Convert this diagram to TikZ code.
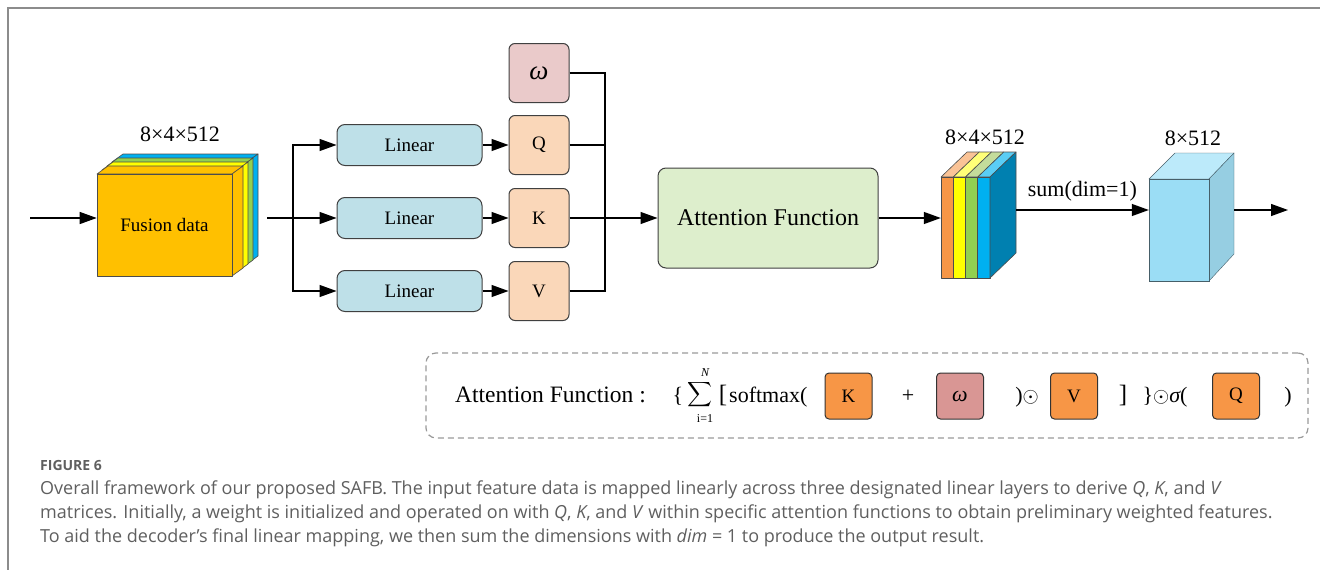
\documentclass[tikz,border=0pt]{standalone}
\usepackage{exscale}
\usepackage{fontspec}
\setmainfont{Liberation Serif}
\newfontfamily\capfont{Open Sans}
\usetikzlibrary{arrows.meta,positioning}

\definecolor{linblue}{RGB}{190,224,232}
\definecolor{matpeach}{RGB}{250,215,185}
\definecolor{wpink}{RGB}{234,202,202}
\definecolor{wdpink}{RGB}{217,150,148}
\definecolor{attgreen}{RGB}{221,238,204}
\definecolor{fusegold}{RGB}{255,192,0}
\definecolor{layorange}{RGB}{247,150,70}
\definecolor{layyellow}{RGB}{255,255,0}
\definecolor{laygreen}{RGB}{146,208,80}
\definecolor{layblue}{RGB}{0,176,240}
\definecolor{toporange}{RGB}{250,195,150}
\definecolor{topyellow}{RGB}{255,255,120}
\definecolor{topgreen}{RGB}{196,220,155}
\definecolor{topblue}{RGB}{90,205,245}
\definecolor{sideblue}{RGB}{0,128,176}
\definecolor{cubefront}{RGB}{155,221,245}
\definecolor{cubetop}{RGB}{188,234,250}
\definecolor{cubeside}{RGB}{150,206,226}
\definecolor{cubeedge}{RGB}{70,95,105}
\definecolor{capgray}{RGB}{95,95,95}

\begin{document}
\begin{tikzpicture}[x=1pt, y=-1pt,
txt/.style={font=\fontsize{19}{20}\selectfont},
lin/.style={draw=black!75, line width=1pt, rounded corners=8pt, fill=linblue, minimum width=145pt, minimum height=41pt, txt},
mat/.style={draw=black!75, line width=1pt, rounded corners=6pt, fill=matpeach, minimum width=60pt, minimum height=59pt, txt},
fbox/.style={draw=black!80, line width=1pt, rounded corners=4pt, minimum width=47pt, minimum height=46pt, fill=layorange, txt},
ftxt/.style={anchor=base, font=\fontsize{22}{24}\selectfont},
dimlab/.style={font=\fontsize{22}{24}\selectfont},
captxt/.style={anchor=base west, inner sep=0, text=capgray, font=\capfont\fontsize{18}{20}\selectfont},
arr/.style={-{Triangle[length=17pt,width=12pt]}, line width=1.3pt},
ln/.style={line width=1.3pt},
face/.style={draw=black!70, line width=0.6pt, line join=round}
]
\useasboundingbox (0,0) rectangle (1320,570);
\draw[line width=2pt, black!45] (1320,8) -- (8,8) -- (8,570);

% input data cube
\foreach \k/\c in {3/layblue, 2/laygreen, 1/layyellow} {
  \begin{scope}[shift={(5*\k,-4*\k)}]
    \filldraw[face, fill=\c] (97,174) -- (108,166) -- (243,166) -- (232,174) -- cycle;
    \filldraw[face, fill=\c] (232,174) -- (243,166) -- (243,268) -- (232,276) -- cycle;
  \end{scope}
}
\filldraw[face, fill=fusegold] (97,174) -- (108,166) -- (243,166) -- (232,174) -- cycle;
\filldraw[face, fill=fusegold] (232,174) -- (243,166) -- (243,268) -- (232,276) -- cycle;
\node[face, fill=fusegold, minimum width=135pt, minimum height=102pt, inner sep=0, txt] (fusion) at (164.5,225) {Fusion data};
\node[dimlab] (fdim) at (180,134) {8×4×512};

\coordinate (in) at (30,218);
\coordinate (fout) at (267,218);
\coordinate (split) at (293,218);
\draw[arr] (in) -- (in -| fusion.west);
\draw[ln] (fout) -- (split);

% linear layers
\node[lin] (lin1) at (409.5,145) {Linear};
\node[lin] (lin2) at (409.5,218) {Linear};
\node[lin] (lin3) at (409.5,291) {Linear};
\node[mat, fill=wpink, font=\fontsize{27}{28}\selectfont\itshape] (om) at (539,73) {ω};
\node[mat] (q) at (539,145) {Q};
\node[mat] (k) at (539,218) {K};
\node[mat] (v) at (539,291) {V};
\draw[arr] (split) |- (lin1);
\draw[arr] (split) -- (lin2);
\draw[arr] (split) |- (lin3);
\draw[arr] (lin1) -- (q);
\draw[arr] (lin2) -- (k);
\draw[arr] (lin3) -- (v);

\coordinate (merge) at (605,218);
\draw[ln] (om) -| (merge);
\draw[ln] (q) -| (merge);
\draw[ln] (v) -| (merge);
\draw[ln] (k) -- (merge);

% attention
\node[draw=black!75, line width=1pt, rounded corners=8pt, fill=attgreen, minimum width=220pt, minimum height=100pt, font=\fontsize{24}{26}\selectfont] (attn) at (768,218) {Attention Function};
\draw[arr] (merge) -- (attn);

% weighted features
\foreach \c/\t [count=\i from 0] in {layorange/toporange, layyellow/topyellow, laygreen/topgreen, layblue/topblue} {
  \filldraw[face, fill=\t] (941+12.25*\i,177) -- ++(26,-25) -- ++(12.25,0) -- ++(-26,25) -- cycle;
  \filldraw[face, fill=\c] (941+12.25*\i,177) rectangle ++(12.25,101);
}
\filldraw[face, fill=sideblue] (990,177) -- (1016,152) -- (1016,253) -- (990,278) -- cycle;
\node[minimum width=49pt, minimum height=101pt, inner sep=0] (weighted) at (965.5,227.5) {};
\node[dimlab] (wdim) at (985,137) {8×4×512};
\draw[arr] (attn) -- (attn -| weighted.west);

% output cube
\filldraw[draw=cubeedge, fill=cubetop] (1149,179) -- (1175,153) -- (1234,153) -- (1209,179) -- cycle;
\filldraw[draw=cubeedge, fill=cubeside] (1209,179) -- (1234,153) -- (1234,254) -- (1209,281) -- cycle;
\node[draw=cubeedge, fill=cubefront, minimum width=60pt, minimum height=102pt, inner sep=0] (outcube) at (1179,230) {};
\node[dimlab] (odim) at (1193,138) {8×512};

\coordinate (wback) at (1016,210);
\coordinate (oback) at (1234,210);
\coordinate (oend) at (1288,210);
\draw[arr] (wback) -- node[midway, above=8pt, dimlab, inner sep=0] {sum(dim=1)} (wback -| outcube.west);
\draw[arr] (oback) -- (oend);

% formula
\node[draw=black!40, dash pattern=on 6pt off 4pt, line width=1.2pt, rounded corners=10pt, minimum width=882pt, minimum height=85pt] (afbox) at (867,395.5) {};
\node[ftxt, anchor=base west, inner sep=0, font=\fontsize{23.5}{25}\selectfont] (aflab) at (455,402) {Attention Function\hspace{6pt}:};
\node[ftxt] (lbrace) at (678,402) {\{};
\node[inner sep=0, font=\fontsize{19}{20}\selectfont] (sigma) at (700,395) {$\displaystyle\sum$};
\node[inner sep=0, font=\fontsize{12}{12}\selectfont\itshape] (supn) at (705,373) {N};
\node[inner sep=0, font=\fontsize{12}{12}\selectfont] (subi) at (705,419) {i=1};
\node[ftxt, font=\fontsize{25}{26}\selectfont] (lbrack) at (723,402) {[};
\node[ftxt, anchor=base west, inner sep=0] (smax) at (729,402) {softmax(};
\node[fbox] (fk) at (848.5,396) {K};
\node[ftxt] (plus) at (908,402) {+};
\node[fbox, fill=wdpink, font=\fontsize{22}{24}\selectfont\itshape] (fw) at (960,396) {ω};
\node[ftxt] (odot1) at (1027,402) {)$\odot$};
\node[fbox] (fv) at (1074,396) {V};
\node[ftxt, font=\fontsize{25}{26}\selectfont] (rbrack) at (1123,402) {]};
\node[ftxt] (sig) at (1165,402) {\}$\odot${\itshape σ}(};
\node[fbox] (fq) at (1236,396) {Q};
\node[ftxt] (rpar) at (1288,402) {)};

% caption
\node[captxt, font=\capfont\bfseries\fontsize{14}{15}\selectfont] (fig) at (40,470) {FIGURE 6};
\node[captxt] (cap1) at (40,494) {Overall framework of our proposed SAFB. The input feature data is mapped linearly across three designated linear layers to derive \textit{Q}, \textit{K}, and \textit{V}};
\node[captxt] (cap2) at (40,518) {matrices. Initially, a weight is initialized and operated on with \textit{Q}, \textit{K}, and \textit{V} within specific attention functions to obtain preliminary weighted features.};
\node[captxt] (cap3) at (40,542) {To aid the decoder’s final linear mapping, we then sum the dimensions with \textit{dim} = 1 to produce the output result.};
\end{tikzpicture}
\end{document}
